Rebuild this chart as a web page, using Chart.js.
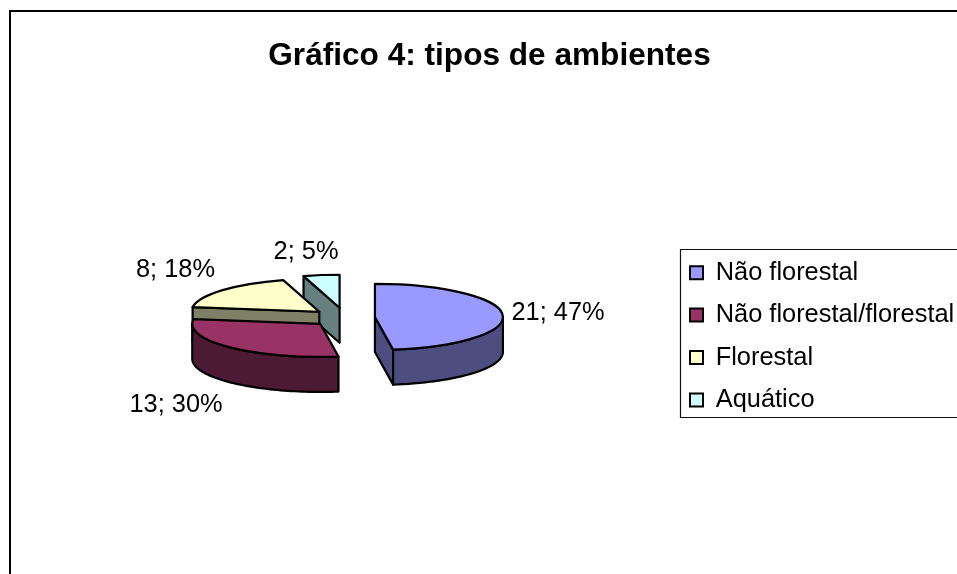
<!DOCTYPE html>
<html lang="pt">
<head>
<meta charset="utf-8">
<style>html,body{margin:0;padding:0;background:#fff;overflow:hidden}canvas{display:block}</style>
<script src="https://cdn.jsdelivr.net/npm/chart.js@4/dist/chart.umd.min.js"></script>
</head>
<body>
<canvas id="c" width="957" height="574"></canvas>
<script>
// ---- data ----
const categories = ['Não florestal', 'Não florestal/florestal', 'Florestal', 'Aquático'];
const counts = [21, 13, 8, 2];
const percents = [47, 30, 18, 5];
const titleText = 'Gráfico 4: tipos de ambientes';

// ---- style ----
const topColors = ['#9999FF', '#993366', '#FFFFCC', '#CCFFFF'];
const sideColors = ['#4D4D80', '#4D1A33', '#808066', '#668080'];
const FONT = '"Liberation Sans", Arial, sans-serif';
const explode = [30, 35, 34, 38];
const labelAnchors = [[558, 313], [176, 405], [175.5, 270], [306, 252]];
const pieCentre = {x: 345, y: 317.5};
const pieRadius = 128, squash = 0.258, depth = 35;

function layoutFor(arc, i) {
  const mid = (arc.startAngle + arc.endAngle) / 2;
  return {
    X: pieCentre.x + Math.cos(mid) * explode[i],
    Y: pieCentre.y + Math.sin(mid) * explode[i] * squash
  };
}

const pie3d = {
  id: 'pie3d',
  afterLayout(chart) {
    const lg = chart.legend;
    const pad = lg.options.labels.padding;
    lg.left = 690 - pad; lg.right = 957; lg.top = 260 - pad; lg.bottom = 574;
    lg.width = lg.right - lg.left; lg.height = lg.bottom - lg.top;
    const t = chart.titleBlock;
    t.left = 21; t.right = 958; t.width = 937;
  },
  beforeDatasetDraw(chart) {
    const ctx = chart.ctx;
    const arcs = chart.getDatasetMeta(0).data;
    [3, 2, 1, 0].forEach(i => {
      const arc = arcs[i];
      const {X, Y} = layoutFor(arc, i);
      const r = arc.outerRadius, a0 = arc.startAngle, a1 = arc.endAngle;
      const p = t => [X + r * Math.cos(t), Y + squash * r * Math.sin(t)];
      ctx.save();
      ctx.lineWidth = 2.2; ctx.lineJoin = 'round'; ctx.strokeStyle = '#000';
      ctx.fillStyle = sideColors[i];
      const wall = t => {
        const q = p(t);
        ctx.beginPath();
        ctx.moveTo(X, Y); ctx.lineTo(q[0], q[1]);
        ctx.lineTo(q[0], q[1] + depth); ctx.lineTo(X, Y + depth);
        ctx.closePath(); ctx.fill(); ctx.stroke();
      };
      if (Math.cos(a0) < -1e-6) wall(a0);
      if (Math.cos(a1) > 1e-6) wall(a1);
      const from = Math.max(a0, 0), to = Math.min(a1, Math.PI);
      if (to > from) {
        ctx.beginPath();
        const n = 60;
        for (let k = 0; k <= n; k++) {
          const q = p(from + (to - from) * k / n);
          k ? ctx.lineTo(q[0], q[1]) : ctx.moveTo(q[0], q[1]);
        }
        for (let k = n; k >= 0; k--) {
          const q = p(from + (to - from) * k / n);
          ctx.lineTo(q[0], q[1] + depth);
        }
        ctx.closePath(); ctx.fill(); ctx.stroke();
      }
      // top face: filled by the library's own arc element under the projection
      ctx.save();
      ctx.transform(1, 0, 0, squash, X, Y);
      ctx.translate(-arc.x, -arc.y);
      arc.draw(ctx);
      ctx.restore();
      // outline at constant pen width
      ctx.save();
      ctx.transform(1, 0, 0, squash, X, Y);
      ctx.beginPath();
      ctx.moveTo(0, 0); ctx.arc(0, 0, r, a0, a1); ctx.closePath();
      ctx.restore();
      ctx.stroke();
      ctx.restore();
    });
    return false;
  },
  afterDraw(chart) {
    const ctx = chart.ctx;
    ctx.save();
    // chart frame, cut by the picture on the right and at the bottom
    ctx.strokeStyle = '#000'; ctx.lineWidth = 2;
    ctx.beginPath(); ctx.moveTo(10, 574); ctx.lineTo(10, 11); ctx.lineTo(957, 11); ctx.stroke();
    // legend frame
    ctx.lineWidth = 1.2; ctx.strokeStyle = '#111';
    ctx.beginPath(); ctx.moveTo(957, 249.5); ctx.lineTo(680.5, 249.5); ctx.lineTo(680.5, 417.5); ctx.lineTo(957, 417.5); ctx.stroke();
    // data labels
    ctx.fillStyle = '#000'; ctx.font = '25.4px ' + FONT;
    ctx.textAlign = 'center'; ctx.textBaseline = 'middle';
    counts.forEach((v, i) => ctx.fillText(v + '; ' + percents[i] + '%', labelAnchors[i][0], labelAnchors[i][1]));
    ctx.restore();
  }
};

new Chart(document.getElementById('c'), {
  type: 'pie',
  data: {
    labels: categories,
    datasets: [{data: counts, backgroundColor: topColors, borderWidth: 0}]
  },
  options: {
    responsive: false,
    animation: false,
    radius: pieRadius,
    layout: {padding: 0},
    plugins: {
      tooltip: {enabled: false},
      title: {
        display: true, text: titleText, color: '#000',
        font: {family: FONT, size: 31.6, weight: 'bold'},
        padding: {top: 37, bottom: 10}
      },
      legend: {
        position: 'right', align: 'start',
        labels: {
          color: '#000', boxWidth: 13, boxHeight: 13, padding: 17,
          font: {family: FONT, size: 25.4},
          generateLabels(chart) {
            return Chart.overrides.pie.plugins.legend.labels.generateLabels(chart)
              .map(l => Object.assign(l, {strokeStyle: '#000', lineWidth: 2}));
          }
        }
      }
    }
  },
  plugins: [pie3d]
});
</script>
</body>
</html>
